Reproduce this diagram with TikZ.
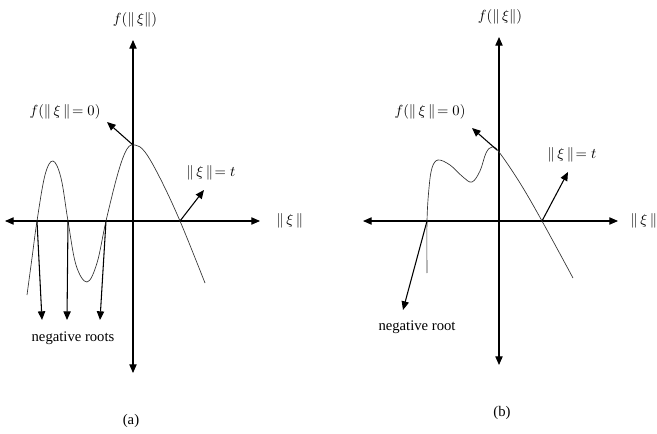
\documentclass[tikz,border=0pt]{standalone}
\usepackage{fontspec}
\setmainfont{Liberation Serif}
\usetikzlibrary{arrows.meta}
\tikzset{
  lbl/.style={inner sep=1pt, font=\fontsize{11}{13}\selectfont},
  axis/.style={line width=0.8pt, <->},
  curve/.style={line width=0.5pt, black!80},
  pointer/.style={line width=0.8pt, ->},
}
\begin{document}
\begin{tikzpicture}[x=0.75pt, y=0.75pt, >={Triangle[length=6.5pt,width=5.5pt]}]
    \useasboundingbox (0,0) rectangle (657,433);

    % ---------- (a) ----------
    % Assi
    \coordinate (a-l) at (5,212);  \coordinate (a-r) at (260,212);
    \coordinate (a-b) at (133,60); \coordinate (a-t) at (133,393);
    \draw[axis] (a-l) -- (a-r);
    \draw[axis] (a-b) -- (a-t);
    \node[lbl] (a-ylab) at (135,413) {$f(\|\,\xi\|)$};
    \node[lbl] (a-xlab) at (290,212) {$\|\,\xi\,\|$};

    % Curva con tre radici negative
    \draw[curve] plot[smooth, tension=0.6] coordinates {
        (27,138) (32,175) (37,212) (45,258) (53,272) (61,255) (68,212)
        (76,168) (87,151) (97,170) (106,212) (118,260) (127,284) (135,288)
        (145,281) (160,255) (180,212) (205,150)};

    % Frecce con etichette
    \coordinate (a-f0) at (133,288); \coordinate (a-f0e) at (107,311);
    \draw[pointer] (a-f0) -- (a-f0e);
    \node[lbl] (a-f0lab) at (65,321) {$f(\|\,\xi\,\|\!=0)$};
    \coordinate (a-t0) at (180,212); \coordinate (a-t0e) at (204,243);
    \draw[pointer] (a-t0) -- (a-t0e);
    \node[lbl] (a-tlab) at (211,260) {$\|\,\xi\,\|\!=t$};

    % Radici negative
    \foreach \x/\y [count=\i] in {37/42, 68/67, 106/100} {
        \coordinate (a-r\i) at (\x,212);
        \coordinate (a-e\i) at (\y,113);
        \draw[pointer] (a-r\i) -- (a-e\i);
    }
    \node[lbl] (a-roots) at (73,95) {negative roots};
    \node[lbl] (a-cap) at (131,12) {(a)};

    % ---------- (b) ----------
    % Assi
    \coordinate (b-l) at (363,212); \coordinate (b-r) at (618,212);
    \coordinate (b-b) at (499,68);  \coordinate (b-t) at (499,396);
    \draw[axis] (b-l) -- (b-r);
    \draw[axis] (b-b) -- (b-t);
    \node[lbl] (b-ylab) at (500,416) {$f(\|\,\xi\|)$};
    \node[lbl, anchor=west] (b-xlab) at (629,212) {$\|\,\xi\,\|$};

    % Curva con una radice negativa
    \draw[curve] plot[smooth, tension=0.6] coordinates {
        (427,160) (427,212) (429,245) (432,265) (438,273) (450,268)
        (463,256) (472,251) (480,262) (486,280) (492,286) (499,281)
        (520,250) (542,212) (573,155)};

    % Frecce con etichette
    \coordinate (b-f0) at (497,283); \coordinate (b-f0e) at (472,305);
    \draw[pointer] (b-f0) -- (b-f0e);
    \node[lbl] (b-f0lab) at (430,321) {$f(\|\,\xi\,\|\!=0)$};
    \coordinate (b-t0) at (542,212); \coordinate (b-t0e) at (568,261);
    \draw[pointer] (b-t0) -- (b-t0e);
    \node[lbl] (b-tlab) at (572,278) {$\|\,\xi\,\|\!=t$};

    % Radice negativa
    \coordinate (b-r1) at (427,212); \coordinate (b-e1) at (403,123);
    \draw[pointer] (b-r1) -- (b-e1);
    \node[lbl] (b-root) at (417,106) {negative root};
    \node[lbl] (b-cap) at (502,20) {(b)};
\end{tikzpicture}
\end{document}
